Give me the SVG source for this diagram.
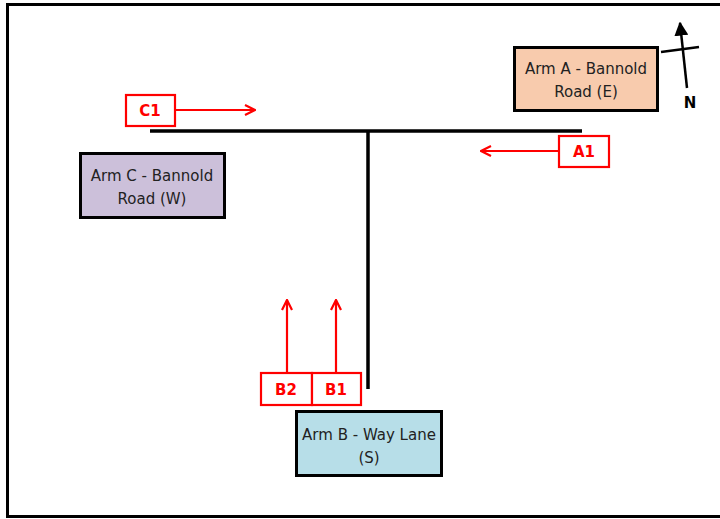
<svg xmlns="http://www.w3.org/2000/svg" width="720" height="519" viewBox="0 0 720 519">
<style>
.lbl{font-family:"DejaVu Sans",Verdana,sans-serif;font-size:15px;fill:#222;text-anchor:middle}
.arm{stroke:#000;stroke-width:3}
.red{fill:#fff;stroke:#f00;stroke-width:2.2}
.rt{font-family:"DejaVu Sans",Verdana,sans-serif;font-size:15px;font-weight:bold;fill:#f00;text-anchor:middle}
.ra{stroke:#f00;stroke-width:2.2;fill:none}
.road{stroke:#000;stroke-width:3.5;fill:none}
</style>
<defs>
<marker id="ch" viewBox="0 0 12 12" refX="11" refY="6" markerWidth="12" markerHeight="12" markerUnits="userSpaceOnUse" orient="auto">
<path d="M1,1 L11,6 L1,11" fill="none" stroke="#f00" stroke-width="2.2"/>
</marker>
<marker id="na" viewBox="0 0 10 10" refX="9" refY="5" markerWidth="14" markerHeight="14" markerUnits="userSpaceOnUse" orient="auto">
<path d="M0,0 L10,5 L0,10 Z" fill="#000"/>
</marker>
</defs>
<rect x="7.5" y="4.5" width="720" height="512" fill="#fff" stroke="#000" stroke-width="3"/>
<g id="connectors">
<path class="road" d="M150,131 H582 M368,131 V389"/>
<line class="ra" x1="175" y1="110" x2="255" y2="110" marker-end="url(#ch)"/>
<line class="ra" x1="559" y1="151" x2="481" y2="151" marker-end="url(#ch)"/>
<line class="ra" x1="287" y1="373" x2="287" y2="300" marker-end="url(#ch)"/>
<line class="ra" x1="336" y1="373" x2="336" y2="300" marker-end="url(#ch)"/>
</g>
<g id="north">
<line x1="687" y1="88" x2="680" y2="23" stroke="#000" stroke-width="2.5" marker-end="url(#na)"/>
<line x1="661" y1="52" x2="699" y2="47" stroke="#000" stroke-width="2.5"/>
<text x="690" y="108" font-family="DejaVu Sans,Verdana,sans-serif" font-size="15" font-weight="bold" text-anchor="middle">N</text>
</g>
<g id="armA">
<rect class="arm" x="514.5" y="47.5" width="143" height="63" fill="#F8CBAD"/>
<text class="lbl" x="586" y="74">Arm A - Bannold</text>
<text class="lbl" x="586" y="97">Road (E)</text>
</g>
<g id="armC">
<rect class="arm" x="80.5" y="153.5" width="144" height="64" fill="#CCC0DA"/>
<text class="lbl" x="152" y="181">Arm C - Bannold</text>
<text class="lbl" x="152" y="204">Road (W)</text>
</g>
<g id="armB">
<rect class="arm" x="296.5" y="411.5" width="145" height="64" fill="#B7DEE8"/>
<text class="lbl" x="369" y="440">Arm B - Way Lane</text>
<text class="lbl" x="369" y="463">(S)</text>
</g>
<g id="C1">
<rect class="red" x="126" y="95" width="49" height="31"/>
<text class="rt" x="150" y="116">C1</text>
</g>
<g id="A1">
<rect class="red" x="559" y="136" width="50" height="31"/>
<text class="rt" x="584" y="157">A1</text>
</g>
<g id="B2">
<rect class="red" x="261" y="373" width="51" height="32"/>
<text class="rt" x="286" y="395">B2</text>
</g>
<g id="B1">
<rect class="red" x="312" y="373" width="49" height="32"/>
<text class="rt" x="336" y="395">B1</text>
</g>
</svg>
